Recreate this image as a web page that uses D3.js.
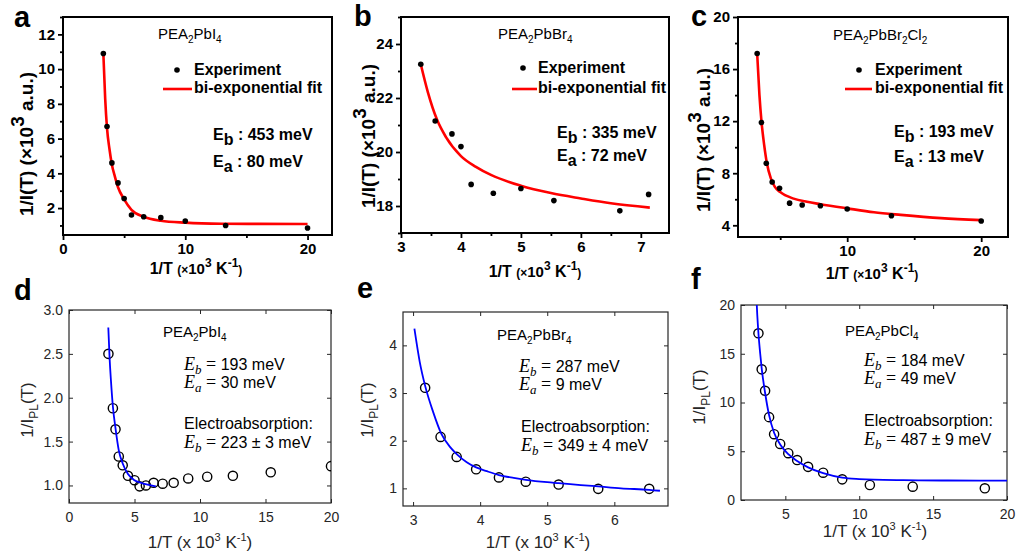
<!DOCTYPE html>
<html>
<head>
<meta charset="utf-8">
<script src="https://cdn.jsdelivr.net/npm/d3@7"></script>
<style>
  body { margin: 0; background: #fff; }
</style>
</head>
<body>
<svg id="fig" width="1016" height="558"></svg>
<script>
// ---- data (x = 1/T in 10^3 K^-1) ----

// a: PEA2PbI4, 1/I(T)
var aX = [3.3, 3.6, 4.0, 4.5, 5.0, 5.6, 6.6, 8.0, 10.0, 13.3, 20.0];
var aY = [10.9, 6.7, 4.6, 3.45, 2.55, 1.6, 1.5, 1.45, 1.25, 1.0, 0.85];
var aFitX = [3.3, 3.45, 3.6, 3.8, 4.0, 4.25, 4.5, 5.0, 5.6, 6.6, 8.0, 10, 13, 16, 20];
var aFitY = [10.9, 8.3, 6.6, 5.4, 4.5, 3.8, 3.2, 2.5, 1.9, 1.5, 1.27, 1.16, 1.1, 1.09, 1.08];

// b: PEA2PbBr4, 1/I(T)
var bX = [3.33, 3.57, 3.85, 4.0, 4.17, 4.54, 5.0, 5.55, 6.65, 7.13];
var bY = [23.25, 21.15, 20.67, 20.2, 18.8, 18.47, 18.65, 18.2, 17.82, 18.43];
var bFitX = [3.33, 3.45, 3.6, 3.75, 4.0, 4.25, 4.5, 5.0, 5.5, 6.0, 6.5, 7.15];
var bFitY = [23.25, 22.2, 21.2, 20.55, 19.85, 19.45, 19.15, 18.75, 18.48, 18.28, 18.1, 17.94];

// c: PEA2PbBr2Cl2, 1/I(T)
var cX = [3.28, 3.6, 3.96, 4.4, 4.95, 5.7, 6.64, 8.0, 10.0, 13.3, 20.0];
var cY = [17.2, 11.9, 8.77, 7.33, 6.85, 5.7, 5.56, 5.5, 5.25, 4.73, 4.33];
var cFitX = [3.28, 3.45, 3.6, 3.8, 4.0, 4.3, 4.6, 5.0, 6.0, 7.0, 8.0, 10, 12, 14, 17, 20];
var cFitY = [17.2, 14.0, 12.0, 10.2, 8.8, 7.6, 6.95, 6.55, 6.05, 5.8, 5.62, 5.3, 5.0, 4.8, 4.55, 4.4];

// d: PEA2PbI4, 1/I_PL(T)
var dX = [3.01, 3.35, 3.55, 3.8, 4.1, 4.5, 5.0, 5.39, 5.87, 6.46, 7.15, 7.99, 9.1, 10.55, 12.51, 15.4, 20.0];
var dY = [2.5, 1.88, 1.64, 1.33, 1.23, 1.11, 1.06, 0.99, 1.0, 1.03, 1.02, 1.03, 1.08, 1.1, 1.11, 1.15, 1.22];
var dFitX = [3.0, 3.1, 3.2, 3.35, 3.55, 3.8, 4.1, 4.5, 5.0, 5.5, 6.0, 6.63];
var dFitY = [2.8, 2.45, 2.2, 1.9, 1.65, 1.4, 1.25, 1.13, 1.06, 1.03, 1.01, 0.99];

// e: PEA2PbBr4, 1/I_PL(T)
var eX = [3.18, 3.41, 3.65, 3.94, 4.28, 4.68, 5.17, 5.76, 6.52];
var eY = [3.11, 2.08, 1.66, 1.4, 1.23, 1.14, 1.08, 0.99, 0.99];
var eFitX = [3.02, 3.1, 3.18, 3.3, 3.42, 3.55, 3.65, 3.8, 3.94, 4.1, 4.28, 4.5, 4.68, 5.0, 5.17, 5.5, 5.76, 6.1, 6.52, 6.68];
var eFitY = [4.35, 3.65, 3.15, 2.6, 2.15, 1.87, 1.72, 1.55, 1.44, 1.36, 1.28, 1.22, 1.18, 1.13, 1.11, 1.07, 1.04, 1.0, 0.97, 0.95];

// f: PEA2PbCl4, 1/I_PL(T)
var fX = [3.18, 3.4, 3.63, 3.9, 4.24, 4.65, 5.2, 5.8, 6.54, 7.56, 8.85, 10.72, 13.62, 18.5];
var fY = [17.1, 13.4, 11.2, 8.5, 6.75, 5.75, 4.8, 4.1, 3.4, 2.8, 2.12, 1.54, 1.37, 1.2];
var fFitX = [3.02, 3.1, 3.18, 3.3, 3.4, 3.63, 3.9, 4.24, 4.65, 5.2, 5.8, 6.54, 7.56, 8.85, 10, 11, 13, 16, 20];
var fFitY = [21.5, 19.0, 17.1, 15.0, 13.5, 11.0, 8.7, 6.9, 5.7, 4.7, 4.0, 3.35, 2.75, 2.3, 2.15, 2.08, 2.03, 2.0, 1.99];

// tick values
var aXTicks = [0, 10, 20], aXMinor = [5, 15];
var aYTicks = [2, 4, 6, 8, 10, 12], aYMinor = [1, 3, 5, 7, 9, 11, 13];
var bXTicks = [3, 4, 5, 6, 7], bXMinor = [3.5, 4.5, 5.5, 6.5];
var bYTicks = [18, 20, 22, 24], bYMinor = [17, 19, 21, 23, 25];
var cXTicks = [10, 20], cXMinor = [5, 15];
var cYTicks = [4, 8, 12, 16, 20], cYMinor = [6, 10, 14, 18];
var dXTicks = [0, 5, 10, 15, 20], dYTicks = [1.0, 1.5, 2.0, 2.5, 3.0];
var eXTicks = [3, 4, 5, 6], eYTicks = [1, 2, 3, 4];
var fXTicks = [5, 10, 15, 20], fYTicks = [0, 5, 10, 15, 20];

var SANS = 'Liberation Sans, Arial, Helvetica, sans-serif';
var SERIF = 'Liberation Serif, Times New Roman, serif';

var svg = d3.select('#fig');

// text with sub/superscript pieces; sh > 0 moves down
function rich(g, x, y, parts, base) {
  var t = g.append('text').attr('x', x).attr('y', y)
    .attr('font-family', base.family || SANS)
    .attr('font-size', base.size)
    .attr('font-weight', base.weight || 'normal')
    .attr('fill', base.fill || '#000');
  if (base.anchor) t.attr('text-anchor', base.anchor);
  if (base.rotate) t.attr('transform', 'rotate(-90,' + x + ',' + y + ')');
  var cur = 0;
  parts.forEach(function (p) {
    if (typeof p === 'string') p = {t: p};
    var sh = p.sh || 0;
    var s = t.append('tspan').text(p.t).attr('dy', sh - cur);
    cur = sh;
    if (p.size) s.attr('font-size', p.size);
    if (p.italic) s.attr('font-style', 'italic');
    if (p.family) s.attr('font-family', p.family);
    if (p.weight) s.attr('font-weight', p.weight);
  });
  return t;
}

function drawPanel(p) {
  var x = d3.scaleLinear().domain(p.xd).range([p.box[0], p.box[2]]);
  var y = d3.scaleLinear().domain(p.yd).range([p.box[3], p.box[1]]);
  var g = svg.append('g');
  var origin = p.style === 'origin';

  svg.append('clipPath').attr('id', 'clip-' + p.id).append('rect')
    .attr('x', p.box[0]).attr('y', p.box[1])
    .attr('width', p.box[2] - p.box[0]).attr('height', p.box[3] - p.box[1]);

  var tickFont = origin ? 15 : 14;
  var tickColor = origin ? '#000' : '#262626';

  function styleAxis(sel) {
    sel.select('.domain').remove();
    sel.selectAll('text').attr('font-family', SANS).attr('font-size', tickFont)
      .attr('font-weight', origin ? 'bold' : 'normal').attr('fill', tickColor);
    sel.selectAll('line').attr('stroke', tickColor).attr('stroke-width', origin ? 1.8 : 1);
  }

  if (origin) {
    g.append('g').attr('transform', 'translate(0,' + p.box[3] + ')')
      .call(d3.axisBottom(x).tickValues(p.xMinor).tickSize(3).tickFormat(''))
      .call(styleAxis);
    g.append('g').attr('transform', 'translate(0,' + p.box[3] + ')')
      .call(d3.axisBottom(x).tickValues(p.xTicks).tickSize(5).tickPadding(3).tickFormat(d3.format('d')))
      .call(styleAxis);
    g.append('g').attr('transform', 'translate(' + p.box[0] + ',0)')
      .call(d3.axisLeft(y).tickValues(p.yMinor).tickSize(3).tickFormat(''))
      .call(styleAxis);
    g.append('g').attr('transform', 'translate(' + p.box[0] + ',0)')
      .call(d3.axisLeft(y).tickValues(p.yTicks).tickSize(5).tickPadding(3).tickFormat(d3.format('d')))
      .call(styleAxis);
  } else {
    var fmt = p.yFmt ? d3.format(p.yFmt) : d3.format('d');
    g.append('g').attr('transform', 'translate(0,' + p.box[3] + ')')
      .call(d3.axisBottom(x).tickValues(p.xTicks).tickSizeInner(-4).tickSizeOuter(0).tickPadding(9).tickFormat(d3.format('d')))
      .call(styleAxis);
    g.append('g').attr('transform', 'translate(0,' + p.box[1] + ')')
      .call(d3.axisTop(x).tickValues(p.xTicks).tickSizeInner(-4).tickSizeOuter(0).tickFormat(''))
      .call(styleAxis);
    g.append('g').attr('transform', 'translate(' + p.box[0] + ',0)')
      .call(d3.axisLeft(y).tickValues(p.yTicks).tickSizeInner(-4).tickSizeOuter(0).tickPadding(6).tickFormat(fmt))
      .call(styleAxis);
    g.append('g').attr('transform', 'translate(' + p.box[2] + ',0)')
      .call(d3.axisRight(y).tickValues(p.yTicks).tickSizeInner(-4).tickSizeOuter(0).tickFormat(''))
      .call(styleAxis);
  }

  // frame
  g.append('rect')
    .attr('x', p.box[0]).attr('y', p.box[1])
    .attr('width', p.box[2] - p.box[0]).attr('height', p.box[3] - p.box[1])
    .attr('fill', 'none')
    .attr('stroke', origin ? '#000' : '#262626')
    .attr('stroke-width', origin ? 2 : 1.2);

  var plot = g.append('g').attr('clip-path', 'url(#clip-' + p.id + ')');
  var fit = p.fx.map(function (v, i) { return [v, p.fy[i]]; });
  var pts = p.x.map(function (v, i) { return [v, p.y[i]]; });
  var line = d3.line().x(function (d) { return x(d[0]); }).y(function (d) { return y(d[1]); })
    .curve(d3.curveMonotoneX);

  if (origin) {
    plot.append('path').datum(fit).attr('d', line)
      .attr('fill', 'none').attr('stroke', '#ff0000').attr('stroke-width', 2.6);
    plot.selectAll('circle.pt').data(pts).enter().append('circle')
      .attr('class', 'pt')
      .attr('cx', function (d) { return x(d[0]); })
      .attr('cy', function (d) { return y(d[1]); })
      .attr('r', 2.8).attr('fill', '#000');
  } else {
    plot.selectAll('circle.pt').data(pts).enter().append('circle')
      .attr('class', 'pt')
      .attr('cx', function (d) { return x(d[0]); })
      .attr('cy', function (d) { return y(d[1]); })
      .attr('r', 4.6).attr('fill', 'none').attr('stroke', '#000').attr('stroke-width', 1.4);
    plot.append('path').datum(fit).attr('d', line)
      .attr('fill', 'none').attr('stroke', '#0000ff').attr('stroke-width', 1.8);
  }
  return g;
}

var panels = [
  {id: 'a', style: 'origin', box: [63, 17, 332, 235], xd: [0, 22], yd: [0.45, 13],
   xTicks: aXTicks, xMinor: aXMinor, yTicks: aYTicks, yMinor: aYMinor, x: aX, y: aY, fx: aFitX, fy: aFitY},
  {id: 'b', style: 'origin', box: [401, 17, 669, 233], xd: [3, 7.47], yd: [17, 25],
   xTicks: bXTicks, xMinor: bXMinor, yTicks: bYTicks, yMinor: bYMinor, x: bX, y: bY, fx: bFitX, fy: bFitY},
  {id: 'c', style: 'origin', box: [738, 17, 1008, 237], xd: [1.85, 22], yd: [3.1, 20],
   xTicks: cXTicks, xMinor: cXMinor, yTicks: cYTicks, yMinor: cYMinor, x: cX, y: cY, fx: cFitX, fy: cFitY},
  {id: 'd', style: 'matlab', box: [69, 310, 331, 503], xd: [0, 20], yd: [0.8, 3.0], yFmt: '.1f',
   xTicks: dXTicks, yTicks: dYTicks, x: dX, y: dY, fx: dFitX, fy: dFitY},
  {id: 'e', style: 'matlab', box: [403, 312, 668, 506], xd: [2.85, 6.8], yd: [0.63, 4.7],
   xTicks: eXTicks, yTicks: eYTicks, x: eX, y: eY, fx: eFitX, fy: eFitY},
  {id: 'f', style: 'matlab', box: [741, 305, 1007, 500], xd: [2, 20], yd: [0, 20],
   xTicks: fXTicks, yTicks: fYTicks, x: fX, y: fY, fx: fFitX, fy: fFitY}
];

panels.forEach(drawPanel);

var notes = svg.append('g');

// panel letters
[['a', 14, 27], ['b', 354, 26], ['c', 691, 26], ['d', 14, 300], ['e', 357, 298], ['f', 691, 289]]
  .forEach(function (l) {
    notes.append('text').attr('x', l[1]).attr('y', l[2]).text(l[0])
      .attr('font-family', SANS).attr('font-weight', 'bold').attr('font-size', 29);
  });

// ---- top row (Origin style) labels ----
function topLabels(cx, xBase, yLabX, yLabY) {
  rich(notes, cx, xBase, ['1/T ', {t: '(\u00d7', size: 12}, {t: '10', size: 15},
    {t: '3', size: 12, sh: -7}, {t: ' K', size: 16}, {t: '-1', size: 12, sh: -7}, {t: ')', size: 12}],
    {size: 16, weight: 'bold', anchor: 'middle'});
  rich(notes, yLabX, yLabY, ['1/I(T) (\u00d7', '10', {t: '3', size: 19, sh: -9}, {t: ' a.u.)', sh: 0}],
    {size: 19, weight: 'bold', anchor: 'middle', rotate: true});
}
topLabels(196, 274, 33, 144);
topLabels(535, 277, 375, 136);
topLabels(872, 279, 710, 140);

function originNotes(nameParts, nx, ny, dotX, dotY, lx0, lx1, ly, tx, eb, ea, ebY, eaY) {
  rich(notes, nx, ny, nameParts, {size: 15});
  notes.append('circle').attr('cx', dotX).attr('cy', dotY).attr('r', 2.8).attr('fill', '#000');
  rich(notes, tx, dotY + 5, ['Experiment'], {size: 16, weight: 'bold'});
  notes.append('line').attr('x1', lx0).attr('x2', lx1).attr('y1', ly).attr('y2', ly)
    .attr('stroke', '#ff0000').attr('stroke-width', 2.6);
  rich(notes, tx, ly + 4, ['bi-exponential fit'], {size: 16, weight: 'bold'});
  rich(notes, tx + 19, ebY, ['E', {t: 'b', sh: 5}, {t: ' : ' + eb, sh: 0}], {size: 16, weight: 'bold'});
  rich(notes, tx + 19, eaY, ['E', {t: 'a', sh: 5}, {t: ' : ' + ea, sh: 0}], {size: 16, weight: 'bold'});
}

originNotes(['PEA', {t: '2', size: 10, sh: 4}, {t: 'PbI', sh: 0}, {t: '4', size: 10, sh: 4}],
  158, 39, 177, 70, 163, 192, 89, 194, '453 meV', '80 meV', 140, 167);
originNotes(['PEA', {t: '2', size: 10, sh: 4}, {t: 'PbBr', sh: 0}, {t: '4', size: 10, sh: 4}],
  498, 39, 523, 68, 512, 537, 89, 538, '335 meV', '72 meV', 138, 161);
originNotes(['PEA', {t: '2', size: 10, sh: 4}, {t: 'PbBr', sh: 0}, {t: '2', size: 10, sh: 4},
  {t: 'Cl', sh: 0}, {t: '2', size: 10, sh: 4}],
  833, 40, 859, 70, 845, 872, 89, 875, '193 meV', '13 meV', 137, 162);

// ---- bottom row (MATLAB style) labels ----
function bottomLabels(cx, xBase, yLabX, yLabY) {
  rich(notes, cx, xBase, ['1/T (x 10', {t: '3', size: 11, sh: -7}, {t: ' K', sh: 0},
    {t: '-1', size: 11, sh: -7}, {t: ')', sh: 0}], {size: 17, anchor: 'middle', fill: '#262626'});
  rich(notes, yLabX, yLabY, ['1/I', {t: 'PL', size: 12, sh: 5}, {t: '(T)', sh: 0}],
    {size: 17, anchor: 'middle', rotate: true, fill: '#262626'});
}
bottomLabels(200, 548, 33, 410);
bottomLabels(538, 548, 373, 410);
bottomLabels(875, 537, 705, 397);

function eq(x, y, sub, val) {
  rich(notes, x, y, [{t: 'E', italic: true, family: SERIF, size: 18},
    {t: sub, italic: true, family: SERIF, size: 13, sh: 4},
    {t: ' = ', family: SERIF, size: 18, sh: 0}, {t: val}], {size: 16});
}

function matlabNotes(nameParts, nx, ny, ex, eb, ea, ebY, eaY, elx, elY, ebEA) {
  rich(notes, nx, ny, nameParts, {size: 15});
  eq(ex, ebY, 'b', eb);
  eq(ex, eaY, 'a', ea);
  rich(notes, elx, elY, ['Electroabsorption:'], {size: 16});
  eq(elx, elY + 19, 'b', ebEA);
}

matlabNotes(['PEA', {t: '2', size: 10, sh: 4}, {t: 'PbI', sh: 0}, {t: '4', size: 10, sh: 4}],
  163, 337, 184, '193 meV', '30 meV', 370, 388, 184, 429, '223 \u00b1 3 meV');
matlabNotes(['PEA', {t: '2', size: 10, sh: 4}, {t: 'PbBr', sh: 0}, {t: '4', size: 10, sh: 4}],
  497, 340, 519, '287 meV', '9 meV', 372, 390, 521, 432, '349 \u00b1 4 meV');
matlabNotes(['PEA', {t: '2', size: 10, sh: 4}, {t: 'PbCl', sh: 0}, {t: '4', size: 10, sh: 4}],
  845, 336, 864, '184 meV', '49 meV', 366, 384, 864, 426, '487 \u00b1 9 meV');
</script>
</body>
</html>
